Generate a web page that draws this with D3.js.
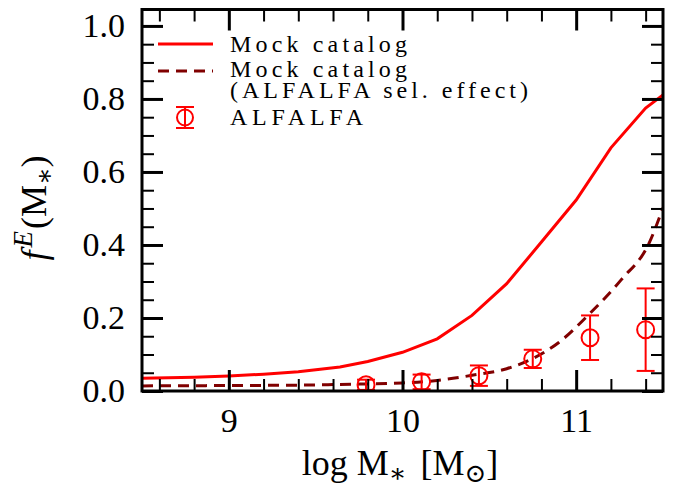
<!DOCTYPE html>
<html>
<head>
<meta charset="utf-8">
<script src="https://cdn.jsdelivr.net/npm/d3@7/dist/d3.min.js"></script>
<style>
  body { margin: 0; background: #fff; }
  svg text { font-family: "Liberation Serif", "DejaVu Serif", serif; fill: #000; }
</style>
</head>
<body>
<div id="chart"></div>
<script>
// 模拟星表 (实线)
const mockX = [8.5, 8.8, 9.0, 9.2, 9.4, 9.64, 9.8, 10.0, 10.2, 10.4, 10.6, 10.8, 11.0, 11.2, 11.4, 11.5];
const mockY = [0.035, 0.038, 0.041, 0.046, 0.053, 0.066, 0.081, 0.106, 0.143, 0.207, 0.294, 0.408, 0.523, 0.666, 0.775, 0.811];

// 模拟星表 + ALFALFA 选择效应 (虚线)
const selX = [8.5, 9.0, 9.4, 9.64, 10.0, 10.2, 10.4, 10.6, 10.75, 10.9, 11.08, 11.26, 11.42, 11.5];
const selY = [0.014, 0.015, 0.016, 0.018, 0.022, 0.029, 0.043, 0.061, 0.089, 0.133, 0.213, 0.305, 0.405, 0.502];

// ALFALFA 观测点及误差
const obsX = [9.79, 10.11, 10.44, 10.75, 11.08, 11.40];
const obsY = [0.017, 0.025, 0.042, 0.088, 0.146, 0.168];
const obsErr = [0.014, 0.020, 0.028, 0.025, 0.061, 0.113];

// 刻度
const xMajor = [9, 10, 11];
const xMinor = [8.6, 8.8, 9.2, 9.4, 9.6, 9.8, 10.2, 10.4, 10.6, 10.8, 11.2, 11.4];
const yMajor = [0.0, 0.2, 0.4, 0.6, 0.8, 1.0];
const yMinor = [0.05, 0.1, 0.15, 0.25, 0.3, 0.35, 0.45, 0.5, 0.55, 0.65, 0.7, 0.75, 0.85, 0.9, 0.95];

const legendLabels = ['Mock catalog', 'Mock catalog', '(ALFALFA sel. effect)', 'ALFALFA'];

const W = 681, H = 490;
const plot = { left: 142, right: 663, top: 9.5, bottom: 391 };
const FONT = '"Liberation Serif", "DejaVu Serif", serif';

const svg = d3.select('#chart').append('svg')
    .attr('width', W)
    .attr('height', H);

const x = d3.scaleLinear().domain([8.5, 11.5]).range([plot.left, plot.right]);
const y = d3.scaleLinear().domain([0, 1.045]).range([plot.bottom, plot.top]);

svg.append('clipPath').attr('id', 'clip')
    .append('rect')
    .attr('x', plot.left).attr('y', plot.top)
    .attr('width', plot.right - plot.left)
    .attr('height', plot.bottom - plot.top);

const g = svg.append('g').attr('clip-path', 'url(#clip)');

// 实线
g.append('path')
    .datum(mockX.map((v, i) => [v, mockY[i]]))
    .attr('d', d3.line().x(d => x(d[0])).y(d => y(d[1])))
    .style('fill', 'none')
    .style('stroke', '#ff0000')
    .style('stroke-width', 3);

// 虚线
g.append('path')
    .datum(selX.map((v, i) => [v, selY[i]]))
    .attr('d', d3.line().x(d => x(d[0])).y(d => y(d[1])).curve(d3.curveMonotoneX))
    .style('fill', 'none')
    .style('stroke', '#800000')
    .style('stroke-width', 3)
    .style('stroke-dasharray', '11,7');

// 误差棒
const obs = obsX.map((v, i) => ({ x: v, y: obsY[i], e: obsErr[i] }));
const pts = g.selectAll('.obs').data(obs).enter().append('g').attr('class', 'obs');
pts.append('line')
    .attr('x1', d => x(d.x)).attr('x2', d => x(d.x))
    .attr('y1', d => y(d.y - d.e)).attr('y2', d => y(d.y + d.e))
    .style('stroke', '#ff0000').style('stroke-width', 2);
[-1, 1].forEach(s => {
    pts.append('line')
        .attr('x1', d => x(d.x) - 9).attr('x2', d => x(d.x) + 9)
        .attr('y1', d => y(d.y + s * d.e)).attr('y2', d => y(d.y + s * d.e))
        .style('stroke', '#ff0000').style('stroke-width', 2);
});
pts.append('circle')
    .attr('cx', d => x(d.x)).attr('cy', d => y(d.y))
    .attr('r', 8.5)
    .style('fill', 'none')
    .style('stroke', '#ff0000').style('stroke-width', 2);

// 坐标轴：刻度朝内，四边都有
function styleAxis(sel, width) {
    sel.attr('font-family', null).attr('font-size', null);
    sel.select('.domain').remove();
    sel.selectAll('.tick line').style('stroke', '#000').style('stroke-width', width);
    sel.selectAll('text')
        .style('font-family', FONT)
        .style('font-size', '34px');
}

const axes = [
    [d3.axisBottom, `translate(0,${plot.bottom})`, x, xMajor, xMinor, true],
    [d3.axisTop, `translate(0,${plot.top})`, x, xMajor, xMinor, false],
    [d3.axisLeft, `translate(${plot.left},0)`, y, yMajor, yMinor, true],
    [d3.axisRight, `translate(${plot.right},0)`, y, yMajor, yMinor, false]
];
axes.forEach(([axisFn, tr, sc, major, minor, labels]) => {
    const isY = sc === y;
    svg.append('g').attr('transform', tr)
        .call(axisFn(sc).tickValues(minor).tickSize(-12).tickFormat(''))
        .call(s => styleAxis(s, 2));
    svg.append('g').attr('transform', tr)
        .call(axisFn(sc).tickValues(major).tickSize(-21).tickPadding(17)
            .tickFormat(labels ? (isY ? d3.format('.1f') : d3.format('d')) : ''))
        .call(s => styleAxis(s, 3));
});

// 外框
svg.append('rect')
    .attr('x', plot.left).attr('y', plot.top)
    .attr('width', plot.right - plot.left)
    .attr('height', plot.bottom - plot.top)
    .style('fill', 'none')
    .style('stroke', '#000')
    .style('stroke-width', 3);

// 图例
const leg = svg.append('g');
leg.append('line').attr('x1', 158).attr('x2', 213).attr('y1', 44).attr('y2', 44)
    .style('stroke', '#ff0000').style('stroke-width', 3);
leg.append('line').attr('x1', 158).attr('x2', 213).attr('y1', 71).attr('y2', 71)
    .style('stroke', '#800000').style('stroke-width', 3).style('stroke-dasharray', '11,7');
leg.append('line').attr('x1', 185).attr('x2', 185).attr('y1', 107).attr('y2', 128)
    .style('stroke', '#ff0000').style('stroke-width', 2);
[107, 128].forEach(cy => {
    leg.append('line').attr('x1', 176).attr('x2', 194).attr('y1', cy).attr('y2', cy)
        .style('stroke', '#ff0000').style('stroke-width', 2);
});
leg.append('circle').attr('cx', 185).attr('cy', 117.5).attr('r', 8)
    .style('fill', 'none').style('stroke', '#ff0000').style('stroke-width', 2);

const legBase = [52, 77, 98, 125];
const legLen = [177, 177, 298, 133];
legendLabels.forEach((t, i) => {
    leg.append('text')
        .attr('x', 230).attr('y', legBase[i])
        .attr('textLength', legLen[i])
        .attr('lengthAdjust', 'spacing')
        .style('font-size', '24px')
        .text(t);
});

// x 轴标题
const xl = svg.append('text')
    .attr('x', 400).attr('y', 475)
    .attr('text-anchor', 'middle')
    .style('font-size', '36px');
xl.append('tspan').text('log M');
xl.append('tspan').attr('dy', 7).style('font-size', '26px').text('∗');
xl.append('tspan').attr('dy', -7).attr('dx', 14).text('[M');
xl.append('tspan').attr('dy', 7).style('font-size', '26px').text('⊙');
xl.append('tspan').attr('dy', -7).text(']');

// y 轴标题
const yl = svg.append('text')
    .attr('transform', 'translate(46,208) rotate(-90)')
    .attr('text-anchor', 'middle')
    .style('font-size', '36px');
yl.append('tspan').style('font-style', 'italic').text('f');
yl.append('tspan').attr('dy', -14).attr('dx', 3).style('font-size', '27px').style('font-style', 'italic').text('E');
yl.append('tspan').attr('dy', 14).attr('dx', 2).text('(M');
yl.append('tspan').attr('dy', 7).style('font-size', '26px').text('∗');
yl.append('tspan').attr('dy', -7).text(')');
</script>
</body>
</html>
